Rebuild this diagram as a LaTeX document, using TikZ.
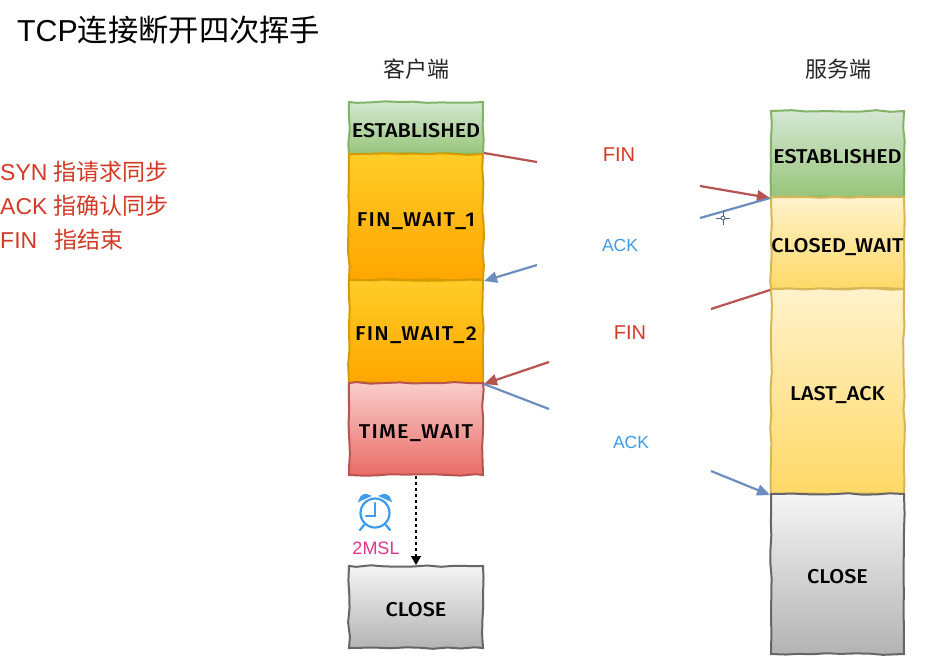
\documentclass[tikz,border=0pt]{standalone}
\usepackage{fontspec}
\setmainfont{Liberation Sans}
\newfontfamily\cjk{Noto Sans CJK SC}
\newfontfamily\sketchfont[FakeStretch=1.08]{Fira Sans Medium}
\newfontfamily\sketchwide[FakeStretch=1.08,LetterSpace=6]{Fira Sans Medium}
\usetikzlibrary{arrows.meta,decorations.pathmorphing,positioning}
\definecolor{redtxt}{HTML}{D23A26}
\definecolor{bluetxt}{HTML}{3E9BEA}
\definecolor{pinktxt}{HTML}{E0368C}
\definecolor{redline}{HTML}{B85450}
\definecolor{blueline}{HTML}{6C8EBF}
\definecolor{HTMLgreen}{HTML}{82B366}
\definecolor{HTMLgreenT}{HTML}{D5E8D4}
\definecolor{HTMLgreenB}{HTML}{97C47A}
\definecolor{HTMLoraD}{HTML}{D79B00}
\definecolor{HTMLoraT}{HTML}{FFCD28}
\definecolor{HTMLoraB}{HTML}{FFA500}
\definecolor{HTMLredT}{HTML}{F8CECC}
\definecolor{HTMLredB}{HTML}{EA6B66}
\definecolor{HTMLyelD}{HTML}{D6B656}
\definecolor{HTMLyelT}{HTML}{FFF2CC}
\definecolor{HTMLyelB}{HTML}{FFD966}
\definecolor{HTMLgraD}{HTML}{666666}
\definecolor{HTMLgraT}{HTML}{F5F5F5}
\definecolor{HTMLgraB}{HTML}{B3B3B3}
\tikzset{
  state/.style={draw,line width=2pt,inner sep=0pt,align=center,text height=18pt,text depth=0pt,
    font=\sketchfont\fontsize{20}{22}\selectfont,
    decorate,decoration={random steps,segment length=14pt,amplitude=0.9pt}},
  est/.style={state,draw=HTMLgreen,top color=HTMLgreenT,bottom color=HTMLgreenB},
  ora/.style={state,draw=HTMLoraD,top color=HTMLoraT,bottom color=HTMLoraB,font=\sketchwide\fontsize{20}{22}\selectfont},
  redb/.style={state,draw=redline,top color=HTMLredT,bottom color=HTMLredB,font=\sketchwide\fontsize{20}{22}\selectfont},
  yel/.style={state,draw=HTMLyelD,top color=HTMLyelT,bottom color=HTMLyelB},
  gra/.style={state,draw=HTMLgraD,top color=HTMLgraT,bottom color=HTMLgraB},
  head/.style={font=\cjk\fontsize{22}{24}\selectfont,text=black!85},
  legend/.style={anchor=west,text=redtxt,font=\fontsize{23}{25}\selectfont,inner sep=0pt},
  finlab/.style={text=redtxt,font=\fontsize{20}{22}\selectfont},
  acklab/.style={text=bluetxt,font=\fontsize{17.5}{20}\selectfont},
  redarrow/.style={draw=redline,line width=2.2pt,-{Triangle[length=13pt,width=11pt]}},
  bluearrow/.style={draw=blueline,line width=2.2pt,-{Triangle[length=13pt,width=11pt]}},
  redplain/.style={draw=redline,line width=2.2pt},
  blueplain/.style={draw=blueline,line width=2.2pt},
}
\newcommand{\statebox}[7]{% style,name,x0,y0,x1,y1,text
  \node[#1,minimum width=#5pt-#3pt,minimum height=#6pt-#4pt] (#2) at ({(#3+#5)/2},{(#4+#6)/2}) {#7};}
\begin{document}
\begin{tikzpicture}[x=1pt,y=-1pt]
\pgfmathsetseed{7}
\useasboundingbox (0,0) rectangle (950,657);
\fill[white] (0,0) rectangle (950,657);
% title
\node[anchor=west,font=\fontsize{30.3}{33}\selectfont,inner sep=0pt] (title) at (17,30) {TCP{\cjk 连接断开四次挥手}};
% legend
\node[legend] (l1) at (0,172) {SYN {\cjk 指请求同步}};
\node[legend] (l2) at (0,206) {ACK {\cjk 指确认同步}};
\node[legend] (l3) at (0,240) {FIN\hspace{11pt} {\cjk 指结束}};
% heads
\node[head] (hc) at (416,69) {客户端};
\node[head] (hs) at (838,69) {服务端};
% client
\statebox{est}{c1}{349}{102}{483}{154}{ESTABLISHED}
\statebox{ora}{c2}{349}{154}{483}{280}{FIN\_WAIT\_1}
\statebox{ora}{c3}{349}{280}{483}{383}{FIN\_WAIT\_2}
\statebox{redb}{c4}{349}{383}{483}{475}{TIME\_WAIT}
\statebox{gra}{c5}{349}{566}{483}{648}{CLOSE}
% server
\statebox{est}{s1}{771}{111}{904}{197}{ESTABLISHED}
\statebox{yel}{s2}{771}{197}{904}{289}{CLOSED\_WAIT}
\statebox{yel}{s3}{771}{289}{904}{494}{LAST\_ACK}
\statebox{gra}{s4}{771}{494}{904}{654}{CLOSE}
% free ends
\coordinate (a1) at (537,162);
\coordinate (a2) at (700,186);
\coordinate (b1) at (700,218);
\coordinate (b2) at (537,265);
\coordinate (f1) at (711,309);
\coordinate (f2) at (549,362);
\coordinate (k1) at (549,409);
\coordinate (k2) at (711,471);
% connectors
\draw[redplain] (c2.north east) -- (a1);
\draw[redarrow] (a2) -- (s1.south west);
\draw[blueplain] (s1.south west) -- (b1);
\draw[bluearrow] (b2) -- (c2.south east);
\draw[redplain] (s2.south west) -- (f1);
\draw[redarrow] (f2) -- (c3.south east);
\draw[blueplain] (c3.south east) -- (k1);
\draw[bluearrow] (k2) -- (s3.south west);
\draw[line width=1.4pt,dash pattern=on 3pt off 3pt,-{Triangle[length=9pt,width=10pt]}] (c4.south) -- (c5.north);
% labels
\node[finlab] (fin1) at (619,155) {FIN};
\node[acklab] (ack1) at (620,245) {ACK};
\node[finlab] (fin2) at (630,333) {FIN};
\node[acklab] (ack2) at (631,442) {ACK};
\node[text=pinktxt,font=\fontsize{18}{20}\selectfont] (msl) at (376,548) {2MSL};
% clock
\begin{scope}[draw=bluetxt,line width=2.2pt,line cap=round]
\draw (375,513) circle[radius=14.5];
\draw (375,503) -- (375,516) -- (366,516);
\draw (360,500) .. controls (361,495) and (366,494) .. (369,496) -- cycle;
\draw (390,500) .. controls (389,495) and (384,494) .. (381,496) -- cycle;
\draw (364,525) -- (360,530);
\draw (386,525) -- (390,530);
\end{scope}
% cursor
\begin{scope}[draw=blueline!70!black,line width=0.8pt]
\draw (723,218) circle[radius=2];
\draw (723,211) -- (723,216) (723,220) -- (723,225) (716,218) -- (721,218) (725,218) -- (730,218);
\end{scope}
\end{tikzpicture}
\end{document}
